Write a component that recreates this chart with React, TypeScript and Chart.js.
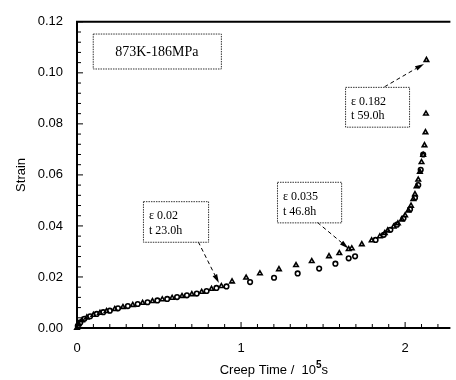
import React, { useEffect, useRef } from "react";
import { Chart, registerables } from "chart.js";

Chart.register(...registerables);

// Series A (triangles): creep time [10^5 s], strain
const timeA = [0, 0.01, 0.03, 0.06, 0.10, 0.14, 0.18, 0.23, 0.28, 0.34, 0.40, 0.46, 0.52, 0.58, 0.64, 0.70, 0.76, 0.82, 0.88, 0.945, 1.031, 1.115, 1.231, 1.335, 1.431, 1.536, 1.599, 1.656, 1.675, 1.736, 1.796, 1.846, 1.876, 1.894, 1.930, 1.956, 1.980, 2.000, 2.020, 2.036, 2.050, 2.060, 2.070, 2.080, 2.090, 2.100, 2.110, 2.118, 2.124, 2.127, 2.130];
const strainA = [0, 0.0015, 0.0030, 0.0041, 0.0051, 0.0059, 0.0066, 0.0074, 0.0082, 0.0090, 0.0098, 0.0105, 0.0112, 0.0118, 0.0125, 0.0132, 0.0141, 0.0153, 0.0164, 0.0182, 0.0197, 0.0214, 0.0230, 0.0246, 0.0262, 0.0281, 0.0293, 0.0309, 0.0312, 0.0328, 0.0343, 0.0359, 0.0372, 0.0382, 0.0397, 0.0410, 0.0425, 0.0441, 0.0460, 0.0479, 0.0505, 0.0524, 0.0555, 0.0581, 0.0612, 0.0650, 0.0678, 0.0716, 0.0767, 0.0840, 0.1050];

// Series B (circles)
const timeB = [0.005, 0.02, 0.045, 0.08, 0.12, 0.16, 0.20, 0.25, 0.31, 0.37, 0.43, 0.49, 0.55, 0.61, 0.67, 0.73, 0.79, 0.85, 0.911, 1.055, 1.201, 1.345, 1.476, 1.575, 1.656, 1.695, 1.82, 1.87, 1.91, 1.95, 1.99, 2.03, 2.06, 2.08, 2.095, 2.11];
const strainB = [0.0008, 0.0022, 0.0036, 0.0046, 0.0055, 0.0062, 0.0068, 0.0077, 0.0086, 0.0094, 0.0101, 0.0108, 0.0114, 0.0121, 0.0128, 0.0135, 0.0145, 0.0157, 0.0163, 0.0180, 0.0197, 0.0214, 0.0233, 0.0252, 0.0273, 0.0281, 0.0345, 0.0365, 0.0385, 0.0405, 0.0430, 0.0465, 0.0510, 0.0560, 0.0620, 0.0680];

const yTicks = [0, 0.02, 0.04, 0.06, 0.08, 0.10, 0.12];
const xTicks = [0, 1, 2];

// Annotation boxes: [x1, y1, x2, y2] in data units, text lines, arrow [fromX, fromY, toX, toY]
const conditionLabel = "873K-186MPa";
const conditionBox = [0.096, 0.1154, 0.877, 0.1017];
const noteLines = [
  ["ε 0.02", "t 23.0h"],
  ["ε 0.035", "t 46.8h"],
  ["ε 0.182", "t 59.0h"],
];
const noteBoxes = [
  [0.402, 0.0497, 0.799, 0.0338],
  [1.219, 0.0573, 1.610, 0.0414],
  [1.634, 0.0945, 2.024, 0.0789],
];
const noteArrows = [
  [0.739, 0.0338, 0.865, 0.0176],
  [1.465, 0.0414, 1.655, 0.0312],
  [1.874, 0.0945, 2.115, 0.1035],
];

const overlay = {
  id: "overlay",
  afterDraw(chart: any) {
    const ctx = chart.ctx;
    const xs = chart.scales.x;
    const ys = chart.scales.y;
    const a = chart.chartArea;
    ctx.save();
    // axes border
    ctx.strokeStyle = "#000";
    ctx.lineWidth = 2;
    ctx.beginPath();
    ctx.moveTo(a.right, a.top);
    ctx.lineTo(a.left, a.top);
    ctx.lineTo(a.left, a.bottom);
    ctx.lineTo(a.right, a.bottom);
    ctx.stroke();
    // inward ticks
    ctx.lineWidth = 1;
    for (let i = 0; i <= 30; i++) {
      const v = i * 0.004;
      const y = ys.getPixelForValue(v);
      const len = i % 5 === 0 ? 6 : 4;
      ctx.beginPath();
      ctx.moveTo(a.left, y);
      ctx.lineTo(a.left + len, y);
      ctx.stroke();
    }
    for (let i = 0; i <= 22; i++) {
      const v = i * 0.1;
      const x = xs.getPixelForValue(v);
      const len = i % 10 === 0 ? 6 : 4;
      ctx.beginPath();
      ctx.moveTo(x, a.bottom);
      ctx.lineTo(x, a.bottom - len);
      ctx.stroke();
    }
    // axis titles
    ctx.fillStyle = "#000";
    ctx.font = "13px 'Liberation Sans', Arial, sans-serif";
    ctx.textBaseline = "middle";
    ctx.textAlign = "left";
    const t1 = "Creep Time /  10";
    const w1 = ctx.measureText(t1).width;
    ctx.font = "bold 10px 'Liberation Sans', Arial, sans-serif";
    const w2 = ctx.measureText("5").width;
    ctx.font = "13px 'Liberation Sans', Arial, sans-serif";
    const w3 = ctx.measureText("s").width;
    const total = w1 + w2 + w3;
    const cx = xs.getPixelForValue(1.2);
    const tx = cx - total / 2;
    const ty = 370;
    ctx.fillText(t1, tx, ty);
    ctx.font = "bold 10px 'Liberation Sans', Arial, sans-serif";
    ctx.fillText("5", tx + w1, ty - 5);
    ctx.font = "13px 'Liberation Sans', Arial, sans-serif";
    ctx.fillText("s", tx + w1 + w2, ty);
    ctx.save();
    ctx.translate(21, (a.top + a.bottom) / 2);
    ctx.rotate(-Math.PI / 2);
    ctx.textAlign = "center";
    ctx.fillText("Strain", 0, 0);
    ctx.restore();

    // annotation boxes
    const drawBox = (b: number[]) => {
      const x1 = xs.getPixelForValue(b[0]);
      const y1 = ys.getPixelForValue(b[1]);
      const x2 = xs.getPixelForValue(b[2]);
      const y2 = ys.getPixelForValue(b[3]);
      ctx.fillStyle = "#fff";
      ctx.fillRect(x1, y1, x2 - x1, y2 - y1);
      ctx.strokeStyle = "#333";
      ctx.lineWidth = 1;
      ctx.setLineDash([1.5, 1]);
      ctx.strokeRect(x1 + 0.5, y1 + 0.5, x2 - x1, y2 - y1);
      ctx.setLineDash([]);
      return [x1, y1, x2, y2];
    };
    const [cx1, cy1, cx2, cy2] = drawBox(conditionBox);
    ctx.fillStyle = "#000";
    ctx.font = "14px 'Liberation Serif', 'DejaVu Serif', serif";
    ctx.textAlign = "center";
    ctx.textBaseline = "middle";
    ctx.fillText(conditionLabel, (cx1 + cx2) / 2, (cy1 + cy2) / 2 + 1);

    noteBoxes.forEach((b, i) => {
      const ar = noteArrows[i];
      const fx = xs.getPixelForValue(ar[0]);
      const fy = ys.getPixelForValue(ar[1]);
      const px = xs.getPixelForValue(ar[2]);
      const py = ys.getPixelForValue(ar[3]);
      const ang = Math.atan2(py - fy, px - fx);
      const hl = 9;
      const bx = px - hl * Math.cos(ang);
      const by = py - hl * Math.sin(ang);
      ctx.strokeStyle = "#000";
      ctx.lineWidth = 1;
      ctx.setLineDash([4, 3]);
      ctx.beginPath();
      ctx.moveTo(fx, fy);
      ctx.lineTo(bx, by);
      ctx.stroke();
      ctx.setLineDash([]);
      ctx.fillStyle = "#000";
      ctx.beginPath();
      ctx.moveTo(px, py);
      ctx.lineTo(bx + 2.5 * Math.sin(ang), by - 2.5 * Math.cos(ang));
      ctx.lineTo(bx - 2.5 * Math.sin(ang), by + 2.5 * Math.cos(ang));
      ctx.closePath();
      ctx.fill();

      const [x1, y1, x2, y2] = drawBox(b);
      ctx.fillStyle = "#000";
      ctx.font = "12px 'Liberation Serif', 'DejaVu Serif', serif";
      ctx.textAlign = "left";
      ctx.textBaseline = "middle";
      const h = y2 - y1;
      ctx.fillText(noteLines[i][0], x1 + 6, y1 + h * 0.37);
      ctx.fillText(noteLines[i][1], x1 + 6, y1 + h * 0.74);
    });
    ctx.restore();
  },
};

export default function App() {
  const ref = useRef<HTMLCanvasElement>(null);
  useEffect(() => {
    document.body.style.margin = "0";
    const ctx = ref.current!.getContext("2d")!;
    const chart = new Chart(ctx, {
      type: "scatter",
      data: {
        datasets: [
          {
            label: "A",
            data: timeA.map((t, i) => ({ x: t, y: strainA[i] })),
            pointStyle: "triangle",
            pointRadius: 2.6,
            borderColor: "#000",
            backgroundColor: "rgba(255,255,255,0)",
            borderWidth: 1.6,
            showLine: false,
          },
          {
            label: "B",
            data: timeB.map((t, i) => ({ x: t, y: strainB[i] })),
            pointStyle: "circle",
            pointRadius: 2.3,
            borderColor: "#000",
            backgroundColor: "rgba(255,255,255,0)",
            borderWidth: 1.6,
            showLine: false,
          },
        ],
      },
      options: {
        responsive: false,
        animation: false,
        clip: false as any,
        layout: { padding: { left: 0, right: 0, top: 11, bottom: 0 } },
        plugins: { legend: { display: false }, tooltip: { enabled: false } },
        scales: {
          x: {
            type: "linear",
            min: 0,
            max: 2.276,
            grid: { display: false, drawTicks: false },
            border: { display: false },
            afterBuildTicks: (s: any) => {
              s.ticks = xTicks.map((v) => ({ value: v }));
            },
            afterFit: (s: any) => {
              s.height = 52;
            },
            ticks: {
              padding: 13,
              color: "#000",
              font: { family: "'Liberation Sans', Arial, sans-serif", size: 13 },
              callback: (v: any) => String(v),
            },
          },
          y: {
            type: "linear",
            min: 0,
            max: 0.12,
            grid: { display: false, drawTicks: false },
            border: { display: false },
            afterBuildTicks: (s: any) => {
              s.ticks = yTicks.map((v) => ({ value: v }));
            },
            afterFit: (s: any) => {
              s.width = 77;
            },
            ticks: {
              padding: 14,
              color: "#000",
              font: { family: "'Liberation Sans', Arial, sans-serif", size: 13 },
              callback: (v: any) => Number(v).toFixed(2),
            },
          },
        },
      },
      plugins: [overlay],
    });
    return () => chart.destroy();
  }, []);
  return (
    <div style={{ width: 456, height: 380, background: "#fff" }}>
      <canvas ref={ref} width={456} height={380} style={{ display: "block" }} />
    </div>
  );
}
